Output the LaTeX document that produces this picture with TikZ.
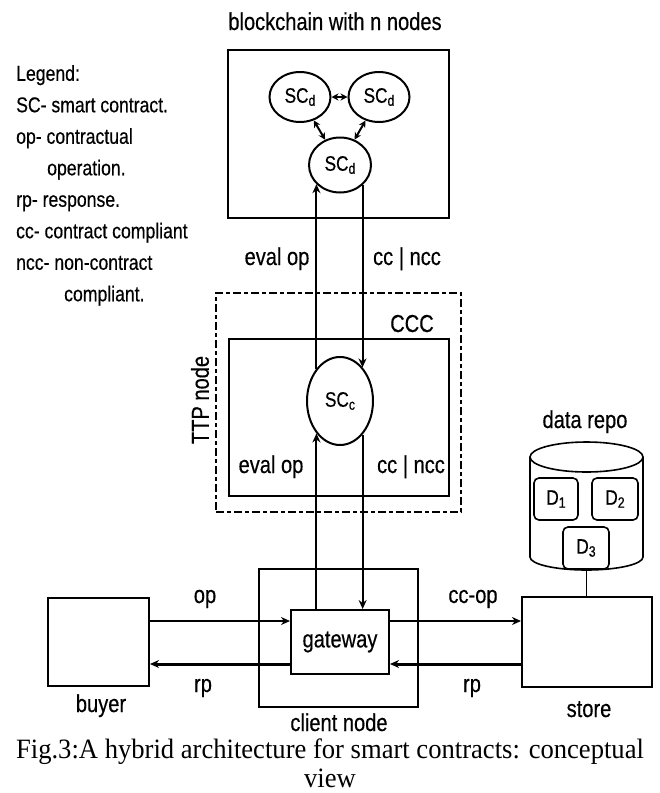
\documentclass[tikz,border=0pt]{standalone}
\usepackage{fontspec}
\setmainfont{Liberation Serif}[FakeStretch=0.95]
\newfontfamily\diagfont{Liberation Sans}[FakeStretch=0.82, FakeBold=0.4]
\usetikzlibrary{arrows.meta,shapes.geometric,positioning}

\tikzset{
  box/.style={draw, line width=2pt, inner sep=0pt},
  dashbox/.style={draw, line width=1.6pt, dash pattern=on 8pt off 3pt on 4pt off 3pt},
  lbl/.style={font=\diagfont\fontsize{24.5}{28}\selectfont, inner sep=0pt},
  sc/.style={draw, ellipse, line width=2pt, inner sep=0pt, font=\diagfont\fontsize{21}{24}\selectfont},
  dbox/.style={draw, rounded corners=5pt, line width=1.6pt, minimum height=42pt, inner sep=0pt, font=\diagfont\fontsize{21}{24}\selectfont},
  repoline/.style={line width=1.6pt},
  link/.style={line width=2pt, -{Stealth[length=9pt,width=8pt]}},
  heavy/.style={line width=3pt},
  duplex/.style={line width=2pt, {Stealth[length=7pt,width=7pt]}-{Stealth[length=7pt,width=7pt]}}
}
\newcommand{\lowsub}[1]{\raisebox{-3pt}{\fontsize{15}{15}\selectfont #1}}

\begin{document}
\begin{tikzpicture}[x=1pt,y=-1pt]
\useasboundingbox (0,0) rectangle (660,793);

% legend
\node[lbl, font=\diagfont\fontsize{21.5}{31.5}\selectfont, align=left, anchor=north west] (legend) at (16,65)
  {Legend:\\SC- smart contract.\\op- contractual\\\hspace*{31pt}operation.\\rp- response.\\cc- contract compliant\\ncc- non-contract\\\hspace*{48pt}compliant.};

% blockchain
\node[lbl, anchor=base] (chaintitle) at (335,30) {blockchain with n nodes};
\node[box, minimum width=221pt, minimum height=168pt] (chain) at (338.5,134) {};
\node[sc, minimum width=61pt, minimum height=50pt] (sdl) at (300,97) {SC\lowsub{d}};
\node[sc, minimum width=61pt, minimum height=50pt] (sdr) at (379,97) {SC\lowsub{d}};
\node[sc, minimum width=62pt, minimum height=55pt] (sdm) at (340,165) {SC\lowsub{d}};
\draw[duplex] (sdl) -- (sdr);
\draw[duplex] (sdl) -- (sdm);
\draw[duplex] (sdr) -- (sdm);

% TTP node
\node[dashbox, minimum width=245pt, minimum height=219pt] (ttp) at (338.5,402.5) {};
\node[lbl, rotate=90] (ttplabel) at (200,400) {TTP node};
\node[box, minimum width=220pt, minimum height=157pt] (ccc) at (339,417.5) {};
\node[lbl, anchor=base] (ccclabel) at (412,332) {CCC};
\node[sc, minimum width=66pt, minimum height=88pt] (scc) at (340,401) {SC\lowsub{c}};
\node[lbl, anchor=base] (evalup) at (277,265) {eval op};
\node[lbl, anchor=base] (ccup) at (407,265) {cc | ncc};
\node[lbl, anchor=base] (evallow) at (271,473) {eval op};
\node[lbl, anchor=base] (cclow) at (411,473) {cc | ncc};

% client node
\node[box, minimum width=159pt, minimum height=138pt] (client) at (338.5,638) {};
\node[lbl, anchor=base] (clientlabel) at (339,731) {client node};
\node[box, lbl, minimum width=98pt, minimum height=64pt] (gw) at (340,642) {gateway};

% buyer and store
\node[box, minimum width=101pt, minimum height=88pt] (buyer) at (98.5,642) {};
\node[lbl, anchor=base] (buyerlabel) at (101,712) {buyer};
\node[box, minimum width=130pt, minimum height=90pt] (store) at (587,642) {};
\node[lbl, anchor=base] (storelabel) at (589,717) {store};

% data repo
\node[lbl, anchor=base] (repolabel) at (585,428) {data repo};
\draw[repoline] (586.5,457) ellipse[x radius=56.5, y radius=15];
\draw[repoline] (530,457) -- (530,557) arc[start angle=180, end angle=0, x radius=56.5, y radius=13] -- (643,457);
\coordinate (repobase) at (586.5,570);
\node[dbox, minimum width=44pt] (d1) at (556,499) {D\lowsub{1}};
\node[dbox, minimum width=46pt] (d2) at (615,499) {D\lowsub{2}};
\node[dbox, minimum width=46pt] (d3) at (586,548) {D\lowsub{3}};
\draw[repoline] (repobase) -- (repobase |- store.north);

% vertical links
\draw[link] (scc.234 |- gw.north) -- (scc.234);
\draw[link] (scc.126) -- (scc.126 |- sdm.219);
\draw[link] (sdm.318) -- (sdm.318 |- scc.56);
\draw[link] (scc.304) -- (scc.304 |- gw.north);

% horizontal links
\draw[link] ([yshift=21pt]buyer.east) -- ([yshift=21pt]buyer.east -| gw.west);
\node[lbl, anchor=base] (oplabel) at (205,603) {op};
\draw[link, heavy] ([yshift=-22pt]gw.west) -- ([yshift=-22pt]gw.west -| buyer.east);
\node[lbl, anchor=base] (rpleft) at (203,692) {rp};
\draw[link] ([yshift=21pt]gw.east) -- ([yshift=21pt]gw.east -| store.west);
\node[lbl, anchor=base] (ccoplabel) at (473,603) {cc-op};
\draw[link, heavy] ([yshift=-22pt]store.west) -- ([yshift=-22pt]store.west -| gw.east);
\node[lbl, anchor=base] (rpright) at (472,692) {rp};

% caption
\node[inner sep=0pt, align=center, font=\fontsize{28}{28.5}\selectfont, anchor=north] (caption) at (330,739)
  {Fig.3:A hybrid architecture for smart contracts: conceptual\\view};
\end{tikzpicture}
\end{document}
